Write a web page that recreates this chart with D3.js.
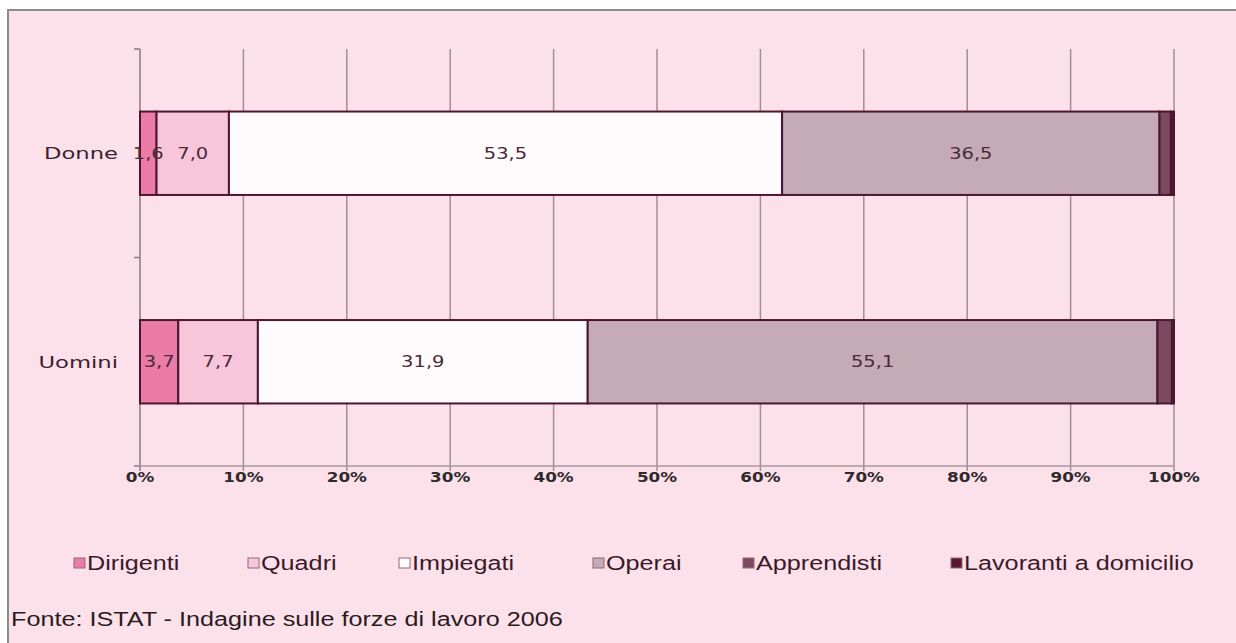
<!DOCTYPE html>
<html><head><meta charset="utf-8">
<script src="https://cdn.jsdelivr.net/npm/d3@7"></script>
<style>html,body{margin:0;padding:0;background:#fff;}svg{display:block;}</style>
</head><body>
<svg id="c" width="1236" height="643"></svg>
<script>
const categories = ["Donne", "Uomini"];
const seriesNames = ["Dirigenti", "Quadri", "Impiegati", "Operai", "Apprendisti", "Lavoranti a domicilio"];
const dirigenti = [1.6, 3.7];
const quadri = [7.0, 7.7];
const impiegati = [53.5, 31.9];
const operai = [36.5, 55.1];
const apprendisti = [1.1, 1.4];
const lavoranti = [0.3, 0.2];
const labelled = [true, true, true, true, false, false];
const xTicks = [0, 10, 20, 30, 40, 50, 60, 70, 80, 90, 100];
const colors = ["#ea7ca6", "#f8c6db", "#fffbfd", "#c4abb6", "#7b4a5f", "#5a1732"];
const source = "Fonte: ISTAT - Indagine sulle forze di lavoro 2006";

(function () {
const seriesValues = [dirigenti, quadri, impiegati, operai, apprendisti, lavoranti];
const rows = categories.map((c, i) => {
  const o = {cat: c};
  seriesNames.forEach((s, j) => o[s] = seriesValues[j][i]);
  return o;
});
const stacked = d3.stack().keys(seriesNames)(rows);

const svg = d3.select("#c");
svg.append("rect").attr("x", 8).attr("y", 10).attr("width", 1240).attr("height", 640).attr("fill", "#fde1ea");
svg.append("path").attr("d", "M8,650 V10 H1240").attr("fill", "none").attr("stroke", "#8c8c8c").attr("stroke-width", 2);

function stext(parent, x, y, str, o) {
  const g = parent.append("g").attr("transform", `translate(${x},${y}) scale(${o.sx},1)`);
  const t = g.append("text").attr("x", 0).attr("y", 0)
    .attr("font-family", o.font).attr("font-size", o.size)
    .attr("fill", o.fill).attr("text-anchor", o.anchor || "start")
    .attr("dy", o.dy || null).text(str);
  if (o.weight) t.attr("font-weight", o.weight);
  return t;
}
const DV = "DejaVu Sans, Verdana, sans-serif";
const AR = "Liberation Sans, Arial, sans-serif";

const pL = 140, pR = 1174, pT = 49, pB = 466;
const x = d3.scaleLinear().domain([0, 100]).range([pL, pR]);
const y = d3.scaleBand().domain(categories).range([pT, pB]).paddingInner(0.6).paddingOuter(0.3);

svg.append("g").selectAll("line").data(xTicks.slice(1)).join("line")
  .attr("x1", d => x(d)).attr("x2", d => x(d)).attr("y1", pT).attr("y2", pB + 5)
  .attr("stroke", "#a08e96").attr("stroke-width", 1.5);

svg.append("line").attr("x1", pL).attr("x2", pL).attr("y1", pT).attr("y2", pB + 5)
  .attr("stroke", "#8a7a82").attr("stroke-width", 1.5);
const yTickPos = [pT, (pT + pB) / 2, pB];
svg.append("g").selectAll("line").data(yTickPos).join("line")
  .attr("x1", pL - 6).attr("x2", pL).attr("y1", d => d).attr("y2", d => d)
  .attr("stroke", "#8a7a82").attr("stroke-width", 1.5);
svg.append("line").attr("x1", pL - 6).attr("x2", pR).attr("y1", pB).attr("y2", pB)
  .attr("stroke", "#a8969e").attr("stroke-width", 1.5);

const g = svg.append("g");
stacked.forEach((layer, j) => {
  g.selectAll(null).data(layer).join("rect")
    .attr("x", d => x(d[0])).attr("width", d => x(d[1]) - x(d[0]))
    .attr("y", d => y(d.data.cat)).attr("height", y.bandwidth())
    .attr("fill", colors[j]).attr("stroke", "#4a1630").attr("stroke-width", 2);
});
stacked.forEach((layer, j) => {
  if (!labelled[j]) return;
  layer.forEach(d => {
    stext(g, (x(d[0]) + x(d[1])) / 2, y(d.data.cat) + y.bandwidth() / 2,
      d3.format(".1f")(d[1] - d[0]).replace(".", ","),
      {sx: 1.3, font: DV, size: 15, fill: "#4b2a3b", anchor: "middle", dy: "0.36em"});
  });
});

categories.forEach(c => {
  stext(svg, 118, y(c) + y.bandwidth() / 2, c,
    {sx: 1.42, font: DV, size: 16, fill: "#3b2030", anchor: "end", dy: "0.36em"});
});

xTicks.forEach(t => {
  stext(svg, x(t), 482, t + "%", {sx: 1.2, font: DV, size: 14, fill: "#2e2a2c", anchor: "middle", weight: "bold"});
});

const legendX = [74, 248, 399, 593, 743, 951];
const lg = svg.append("g");
seriesNames.forEach((s, j) => {
  lg.append("rect").attr("x", legendX[j]).attr("y", 558).attr("width", 11).attr("height", 10)
    .attr("fill", colors[j]).attr("stroke", "#8a6a7a").attr("stroke-width", 1);
  stext(lg, legendX[j] + 13, 570, s, {sx: 1.2, font: AR, size: 21, fill: "#3a1a2a"});
});

stext(svg, 11, 626, source, {sx: 1.2, font: AR, size: 21, fill: "#2a1a22"});
})();
</script>
</body></html>
